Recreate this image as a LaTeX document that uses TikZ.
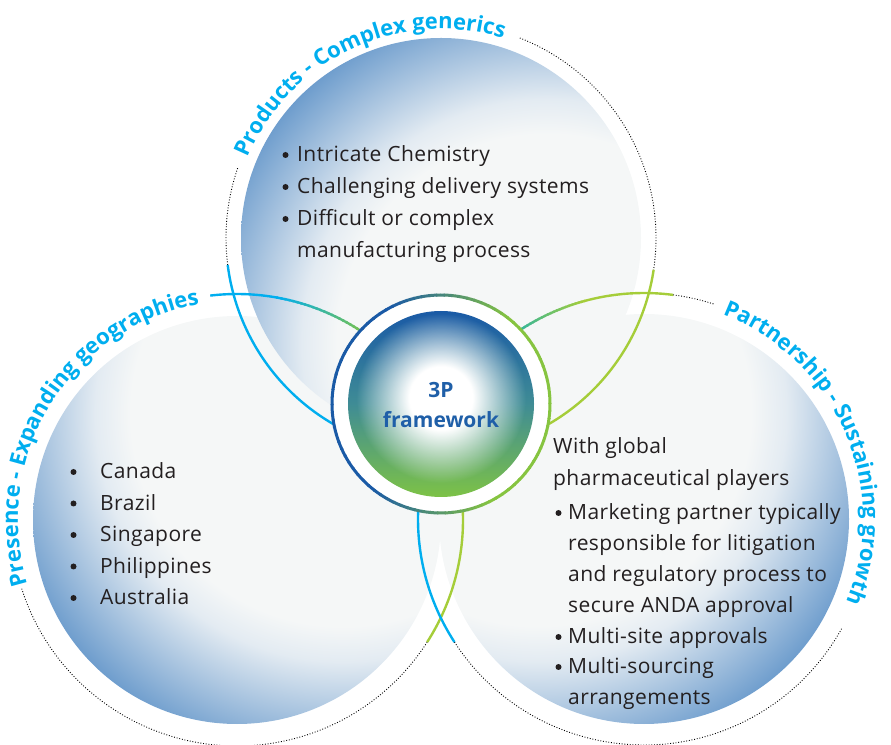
\documentclass[tikz,border=0pt]{standalone}
\usepackage{fontspec}
\setmainfont{Open Sans}[LetterSpace=2]
\newfontfamily\labfont{Open Sans}[BoldFont=* Bold]
\usetikzlibrary{decorations.text,fadings,calc}

\definecolor{labc}{HTML}{00AEEF}
\definecolor{grc}{HTML}{A5CD39}
\definecolor{grmid}{HTML}{7CC24A}
\definecolor{tealc}{HTML}{2DB5A2}
\definecolor{fblue}{HTML}{6E9DCD}
\definecolor{fpale}{HTML}{E3EBF2}
\definecolor{fwhite}{HTML}{F5F7F7}
\definecolor{cblue}{HTML}{1A5AA6}
\definecolor{cgreen}{HTML}{86C440}
\definecolor{cmid}{HTML}{3F8C95}
\definecolor{igreen}{HTML}{7DC246}
\definecolor{ctext}{HTML}{1F5FA8}
\definecolor{bodyc}{HTML}{231F20}

\pgfdeclareradialshading{bigfade}{\pgfpointorigin}{color(0bp)=(fwhite); color(15bp)=(fwhite); color(17.5bp)=(fpale); color(25bp)=(fblue); color(50bp)=(fblue)}
\pgfdeclareradialshading{glowsh}{\pgfpointorigin}{color(0bp)=(white); color(9bp)=(white); color(24bp)=(black); color(50bp)=(black)}
\pgfdeclarefading{glow}{\pgfuseshading{glowsh}}

\tikzset{
  dotarc/.style={line width=0.9pt, dash pattern=on 0.9pt off 1.8pt, black},
  solidarc/.style={line width=2.4pt},
  body/.style={font=\fontsize{21}{21}\selectfont, text=bodyc, anchor=base west, inner sep=0pt},
  bul/.style={circle, fill=bodyc, inner sep=0pt, minimum size=6pt},
  ptitle/.style={font=\labfont\fontsize{21}{21}\selectfont\bfseries, text=ctext, anchor=base, inner sep=0pt}
}

\newcommand{\gradarc}[7]{%
  \foreach \i in {0,...,23}{%
    \pgfmathsetmacro\sa{#4+(#5-#4)*\i/24}%
    \pgfmathsetmacro\ea{#4+(#5-#4)*(\i+1.5)/24}%
    \pgfmathsetmacro\pc{100-100*\i/23}%
    \draw[solidarc, color={#6!\pc!#7}] (#1,#2) ++(\sa:#3) arc[start angle=\sa, end angle=\ea, radius=#3];
  }}

\begin{document}
\begin{tikzpicture}[x=1pt,y=1pt]
\useasboundingbox (0,0) rectangle (891,744);

\coordinate (TC) at (441,506);
\coordinate (LC) at (237,224);
\coordinate (RC) at (644,225);
\coordinate (CC) at (441,340);

% ---- filled discs
\begin{scope}
  \clip (LC) circle[radius=204];
  \shade[shading=bigfade] ($(LC)+(45:150)$) circle[radius=354];
\end{scope}
\begin{scope}
  \clip (RC) circle[radius=205];
  \shade[shading=bigfade] ($(RC)+(135:150)$) circle[radius=355];
\end{scope}
\begin{scope}
  \clip (TC) circle[radius=200];
  \shade[shading=bigfade] ($(TC)+(-45:150)$) circle[radius=350];
\end{scope}

% ---- top ring
\draw[dotarc] (TC) ++(187.2:215) arc[start angle=187.2, end angle=161, radius=215];
\draw[dotarc] (TC) ++(68.5:215) arc[start angle=68.5, end angle=-8.5, radius=215];
\draw[solidarc, labc] (TC) ++(187.2:215) arc[start angle=187.2, end angle=242, radius=215];
\draw[solidarc, grc] (TC) ++(-8.5:215) arc[start angle=-8.5, end angle=-62, radius=215];

% ---- left ring
\draw[dotarc] (LC) ++(-32.7:226) arc[start angle=-32.7, end angle=-162.5, radius=226];
\draw[solidarc, labc] (LC) ++(96.8:226) arc[start angle=96.8, end angle=79.5, radius=226];
\gradarc{237}{224}{226}{80}{55}{labc}{grmid}
\draw[solidarc, grc] (LC) ++(4:226) arc[start angle=4, end angle=-32.7, radius=226];

% ---- right ring
\draw[dotarc] (RC) ++(82.6:226) arc[start angle=82.6, end angle=72, radius=226];
\draw[dotarc] (RC) ++(213:226) arc[start angle=213, end angle=331, radius=226];
\draw[solidarc, grc] (RC) ++(82.6:226) arc[start angle=82.6, end angle=105.5, radius=226];
\gradarc{644}{225}{226}{105}{125}{grc}{tealc}
\draw[solidarc, labc] (RC) ++(176:226) arc[start angle=176, end angle=213, radius=226];

% ---- curved labels
\path[decorate, decoration={text along path, text align=center,
  text={|\labfont\fontsize{22}{22}\selectfont\bfseries\color{labc}|Products - Complex generics}}]
  (TC) ++(175:209) arc[start angle=175, end angle=55, radius=209];
\path[decorate, decoration={text along path, text align=center,
  text={|\labfont\fontsize{22}{22}\selectfont\bfseries\color{labc}|Presence - Expanding geographies}}]
  (LC) ++(228.5:219) arc[start angle=228.5, end angle=68.5, radius=219];
\path[decorate, decoration={text along path, text align=center,
  text={|\labfont\fontsize{22}{22}\selectfont\bfseries\color{labc}|Partnership - Sustaining growth}}]
  (RC) ++(103.4:219) arc[start angle=103.4, end angle=-56.6, radius=219];

% ---- centre
\fill[white] (CC) circle[radius=110];
\foreach \a in {0,4,...,356}{
  \pgfmathsetmacro\f{max(0,min(100,50+90*cos(\a)-12*sin(\a)))}
  \draw[line width=3pt, color={cgreen!\f!cblue}] ([shift={(\a:109)}]CC) arc[start angle=\a, end angle=\a+4.6, radius=109];
}
\shade[top color=cblue, bottom color=igreen, middle color=cmid] (CC) circle[radius=93];
\begin{scope}
  \clip (CC) circle[radius=93];
  \fill[white, path fading=glow] ($(CC)+(0,6)$) circle[radius=88];
\end{scope}
\node[ptitle] (p3) at (441,346) {3P};
\node[ptitle] (pfw) at (441,316) {framework};

% ---- top list
\node[bul] (tb1) at (285.5,589) {};
\node[body] (tt1) at (297,582) {Intricate Chemistry};
\node[bul] (tb2) at (285.5,557) {};
\node[body] (tt2) at (297,550) {Challenging delivery systems};
\node[bul] (tb3) at (285.5,525) {};
\node[body] (tt3) at (297,518) {Difficult or complex};
\node[body] (tt4) at (297,486) {manufacturing process};

% ---- left list
\node[bul] (lb1) at (73.5,272) {};
\node[body] (lt1) at (100,265) {Canada};
\node[bul] (lb2) at (73.5,240.5) {};
\node[body] (lt2) at (100,233.5) {Brazil};
\node[bul] (lb3) at (73.5,209) {};
\node[body] (lt3) at (100,202) {Singapore};
\node[bul] (lb4) at (73.5,177.5) {};
\node[body] (lt4) at (100,170.5) {Philippines};
\node[bul] (lb5) at (73.5,146) {};
\node[body] (lt5) at (100,139) {Australia};

% ---- right list
\node[body] (r0a) at (553,290) {With global};
\node[body] (r0b) at (553,258) {pharmaceutical players};
\node[bul] (rb1) at (558.5,231) {};
\node[body] (rt1) at (568,224) {Marketing partner typically};
\node[body] (rt2) at (568,193) {responsible for litigation};
\node[body] (rt3) at (568,162) {and regulatory process to};
\node[body] (rt4) at (568,131) {secure ANDA approval};
\node[bul] (rb2) at (558.5,107) {};
\node[body] (rt5) at (568,100) {Multi-site approvals};
\node[bul] (rb3) at (558.5,77) {};
\node[body] (rt6) at (568,70) {Multi-sourcing};
\node[body] (rt7) at (568,39) {arrangements};
\end{tikzpicture}
\end{document}
